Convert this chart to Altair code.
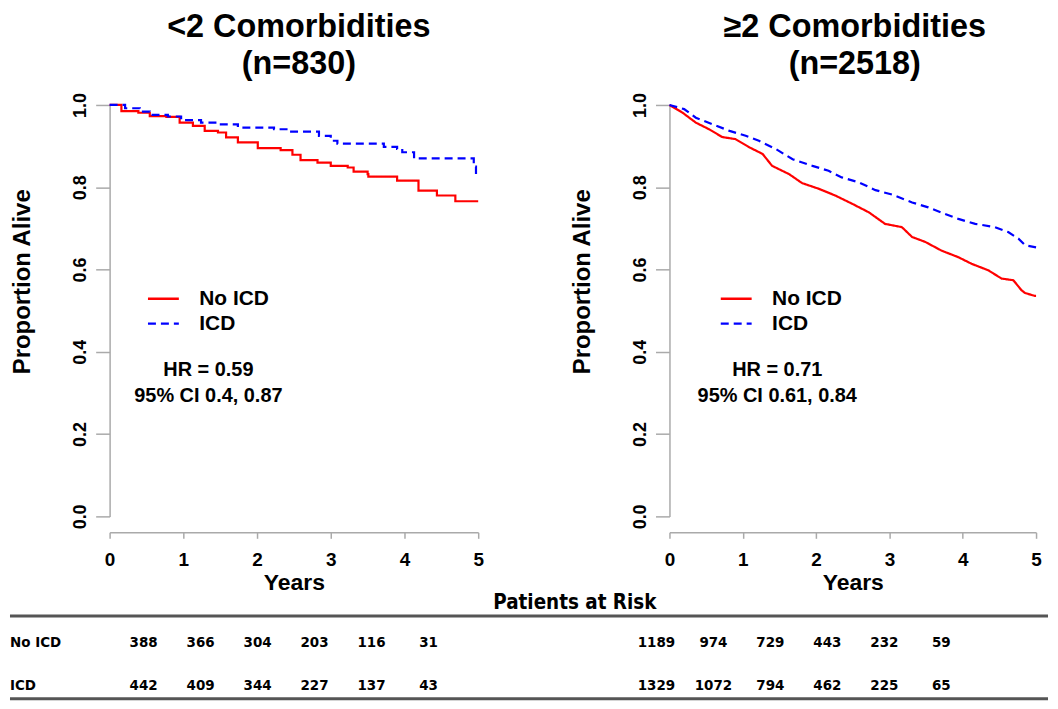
import altair as alt
import pandas as pd

FONT = "Liberation Sans"
NARROW = "DejaVu Sans Condensed, Liberation Sans Narrow, Liberation Sans, sans-serif"

# ---------------- data ----------------
groups = ["No ICD", "ICD"]

# <2 comorbidities (n=830)
left_no_t = [0, 0.16, 0.39, 0.545, 0.77, 0.95, 1.13, 1.29, 1.47, 1.58, 1.74, 2.01, 2.32, 2.48,
             2.59, 2.82, 3.0, 3.23, 3.31, 3.5, 3.51, 3.9, 4.19, 4.44, 4.69, 5.0]
left_no_s = [1.0, 0.985, 0.981, 0.973, 0.971, 0.957, 0.949, 0.937, 0.933, 0.921, 0.909, 0.895, 0.890,
             0.879, 0.866, 0.860, 0.852, 0.848, 0.838, 0.832, 0.826, 0.816, 0.792, 0.780, 0.766, 0.766]
left_icd_t = [0, 0.21, 0.41, 0.545, 0.79, 0.97, 1.24, 1.45, 1.74, 2.23, 2.44, 2.84, 3.0, 3.09,
              3.72, 3.9, 3.97, 4.13, 4.94, 4.97, 5.0]
left_icd_s = [1.0, 0.992, 0.984, 0.976, 0.972, 0.963, 0.957, 0.953, 0.945, 0.941, 0.935, 0.925,
              0.913, 0.906, 0.898, 0.893, 0.885, 0.870, 0.850, 0.832, 0.832]

# >=2 comorbidities (n=2518)
right_no_t = [0, 0.18, 0.36, 0.54, 0.72, 0.9, 1.09, 1.27, 1.40, 1.63, 1.81, 2.04, 2.26, 2.49, 2.72,
              2.94, 3.17, 3.31, 3.49, 3.71, 3.94, 4.12, 4.35, 4.53, 4.69, 4.80, 4.85, 4.98, 5.0]
right_no_s = [1.0, 0.981, 0.957, 0.941, 0.922, 0.917, 0.897, 0.881, 0.852, 0.832, 0.810, 0.796,
              0.780, 0.760, 0.739, 0.711, 0.703, 0.679, 0.667, 0.646, 0.630, 0.614, 0.598, 0.578,
              0.574, 0.550, 0.543, 0.536, 0.536]
right_icd_t = [0, 0.2, 0.36, 0.59, 0.82, 1.04, 1.22, 1.45, 1.68, 1.95, 2.17, 2.35, 2.58, 2.81,
               3.04, 3.31, 3.53, 3.76, 3.94, 4.17, 4.44, 4.62, 4.76, 4.85, 5.0]
right_icd_s = [1.0, 0.990, 0.969, 0.953, 0.937, 0.925, 0.913, 0.893, 0.868, 0.852, 0.840, 0.824,
               0.812, 0.793, 0.782, 0.763, 0.751, 0.735, 0.723, 0.711, 0.703, 0.691, 0.675, 0.659,
               0.654]

# patients at risk at years 0..5
risk_left_no = [388, 366, 304, 203, 116, 31]
risk_left_icd = [442, 409, 344, 227, 137, 43]
risk_right_no = [1189, 974, 729, 443, 232, 59]
risk_right_icd = [1329, 1072, 794, 462, 225, 65]

x_ticks = [0, 1, 2, 3, 4, 5]
y_ticks = [0.0, 0.2, 0.4, 0.6, 0.8, 1.0]


def panel(title_lines, no_t, no_s, icd_t, icd_s, interp, width, legend_x, hr_x,
          hr_text, ci_text, title_dx):
    df = pd.DataFrame({
        "t": no_t + icd_t,
        "s": no_s + icd_s,
        "grp": ["No ICD"] * len(no_t) + ["ICD"] * len(icd_t),
    })
    leg = alt.Legend(title=None, orient="none", legendX=legend_x, legendY=184,
                     symbolType="stroke", symbolSize=961, symbolStrokeWidth=2.5,
                     labelFont=FONT, labelFontSize=21, labelFontWeight="bold",
                     labelColor="black", labelOffset=19, rowPadding=3, padding=0,
                     clipHeight=21)
    x = alt.X("t:Q", scale=alt.Scale(domain=[0, 5], nice=False, zero=False),
              axis=alt.Axis(title="Years", values=x_ticks, format="d", offset=16,
                            tickSize=6, labelPadding=12, titlePadding=2, grid=False,
                            labelFlush=False, labelOverlap=False,
                            domainColor="#aaaaaa", tickColor="#aaaaaa",
                            domainWidth=1.5, tickWidth=1.5,
                            labelFont=FONT, labelFontSize=19, labelFontWeight="bold",
                            labelColor="black", titleFont=FONT, titleFontSize=23,
                            titleFontWeight="bold", titleColor="black"))
    y = alt.Y("s:Q", scale=alt.Scale(domain=[0, 1], nice=False, zero=False),
              axis=alt.Axis(title="Proportion Alive", values=y_ticks, format=".1f",
                            tickSize=14, labelAngle=270, labelAlign="center",
                            labelBaseline="bottom", labelPadding=6, grid=False,
                            labelFlush=False, labelOverlap=False,
                            domainColor="#aaaaaa", tickColor="#aaaaaa",
                            domainWidth=1.5, tickWidth=1.5,
                            labelFont=FONT, labelFontSize=18, labelFontWeight="bold",
                            labelColor="black", titleFont=FONT, titleFontSize=24,
                            titleFontWeight="bold", titleColor="black",
                            titleAngle=270, titleAlign="center", titleBaseline="bottom",
                            titleX=-75, titleY=177))
    lines = alt.Chart(df).mark_line(interpolate=interp, strokeWidth=2.2).encode(
        x=x, y=y,
        color=alt.Color("grp:N", scale=alt.Scale(domain=groups, range=["#ff0000", "#0000ff"]),
                        legend=leg),
        strokeDash=alt.StrokeDash("grp:N", scale=alt.Scale(domain=groups, range=[[1, 0], [8, 5]]),
                                  legend=leg),
    )
    hr = alt.Chart(pd.DataFrame({"label": [hr_text]})).mark_text(
        font=FONT, fontSize=20, fontWeight="bold", color="black", align="center",
        baseline="middle").encode(x=alt.datum(hr_x), y=alt.datum(0.356), text="label:N")
    ci = alt.Chart(pd.DataFrame({"label": [ci_text]})).mark_text(
        font=FONT, fontSize=20, fontWeight="bold", color="black", align="center",
        baseline="middle").encode(x=alt.datum(hr_x), y=alt.datum(0.293), text="label:N")
    return alt.layer(lines, hr, ci).properties(
        width=width, height=413,
        title=alt.TitleParams(text=title_lines, font=FONT, fontSize=32.5, fontWeight="bold",
                              color="black", anchor="middle", frame="group", offset=-21,
                              lineHeight=37, dx=title_dx, baseline="bottom"),
    )


left = panel(["<2 Comorbidities", "(n=830)"], left_no_t, left_no_s, left_icd_t, left_icd_s,
             "step-after", 370, 37, 1.34, "HR = 0.59", "95% CI 0.4, 0.87", 5)
right = panel(["≥2 Comorbidities", "(n=2518)"], right_no_t, right_no_s, right_icd_t, right_icd_s,
              "linear", 368, 50, 1.47, "HR = 0.71", "95% CI 0.61, 0.84", 2)

# ---------------- patients at risk table ----------------
rows = []
for i, (a, b) in enumerate(zip(risk_left_no, risk_left_icd)):
    rows.append({"col": i, "grp": "No ICD", "n": a})
    rows.append({"col": i, "grp": "ICD", "n": b})
for i, (a, b) in enumerate(zip(risk_right_no, risk_right_icd)):
    rows.append({"col": i + 9, "grp": "No ICD", "n": a})
    rows.append({"col": i + 9, "grp": "ICD", "n": b})
tdf = pd.DataFrame(rows)

TW = 942
row_y = alt.Y("grp:N", scale=alt.Scale(type="point", padding=0, domain=groups, range=[53, 96]),
              axis=None)
nums = alt.Chart(tdf).mark_text(font=NARROW, fontSize=15, fontWeight="bold", color="black",
                                align="center", baseline="middle").encode(
    x=alt.X("col:Q", scale=alt.Scale(domain=[-0.5965, -0.5965 + TW / 57.2], nice=False, zero=False),
            axis=None),
    y=row_y, text="n:Q")
labels = alt.Chart(pd.DataFrame({"grp": groups})).mark_text(
    font=NARROW, fontSize=15, fontWeight="bold", color="black", align="left",
    baseline="middle").encode(x=alt.value(-100), y=row_y, text="grp:N")
header = alt.Chart(pd.DataFrame({"label": ["Patients at Risk"]})).mark_text(
    font=NARROW, fontSize=20.5, fontWeight="bold", color="black", align="center",
    baseline="middle").encode(x=alt.value(467), y=alt.value(14), text="label:N")
rule_top = alt.Chart(pd.DataFrame({"k": [0]})).mark_rule(color="#555555", strokeWidth=3).encode(
    x=alt.value(-100), x2=alt.value(TW), y=alt.value(27))
rule_bot = alt.Chart(pd.DataFrame({"k": [0]})).mark_rule(color="#555555", strokeWidth=3).encode(
    x=alt.value(-100), x2=alt.value(TW), y=alt.value(110))
table = alt.layer(rule_top, rule_bot, header, labels, nums).properties(width=TW, height=111)

top = alt.hconcat(left, right, spacing=192, bounds="flush").resolve_scale(
    color="independent", strokeDash="independent").resolve_legend(
    color="independent", strokeDash="independent")
chart = alt.vconcat(top, table, spacing=486, bounds="flush").resolve_scale(
    color="independent", strokeDash="independent").properties(
    padding={"top": 1, "left": 0, "right": 0, "bottom": 0}
).configure_view(strokeWidth=0)

chart.save("out.html", embed_options={"renderer": "svg", "actions": False})
